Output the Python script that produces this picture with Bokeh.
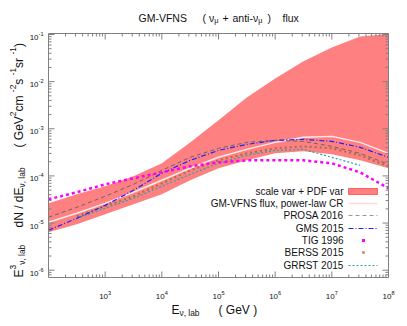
import math
from bokeh.plotting import figure
from bokeh.models import Label, Range1d
from bokeh.embed import file_html
from bokeh.resources import INLINE

# ---------------- data ----------------
E_GeV = [1e2, 3.16e2, 1e3, 3.16e3, 1e4, 3.16e4, 1e5, 3.16e5, 1e6, 3.16e6, 1e7, 3.16e7, 1e8]
band_lower = [6.4e-6, 9.4e-6, 1.53e-5, 2.5e-5, 4.07e-5, 8.1e-5, 1.45e-4, 2.14e-4, 3.01e-4, 3.32e-4, 2.87e-4, 2.14e-4, 1.45e-4]
band_upper = [2.63e-5, 4.07e-5, 6.03e-5, 9.8e-5, 1.86e-4, 5.1e-4, 1.51e-3, 4.6e-3, 1.17e-2, 2.7e-2, 5.3e-2, 9.1e-2, 1.03e-1]
gmvfns_central = [1.04e-5, 1.61e-5, 2.62e-5, 4.5e-5, 8.07e-5, 1.45e-4, 2.48e-4, 3.66e-4, 5.15e-4, 6.58e-4, 6.9e-4, 5.15e-4, 3.01e-4]
prosa_2016 = [1.33e-5, 2.16e-5, 3.70e-5, 6.64e-5, 1.31e-4, 2.48e-4, 3.85e-4, 5.15e-4, 5.68e-4, 5.41e-4, 4.24e-4, 3.01e-4, 1.76e-4]
gms_2015 = [7.03e-6, 1.26e-5, 2.38e-5, 4.95e-5, 1.14e-4, 2.14e-4, 3.48e-4, 4.67e-4, 5.68e-4, 5.96e-4, 5.41e-4, 4.04e-4, 2.48e-4]
tig_1996 = [3.19e-5, 4.5e-5, 6.64e-5, 8.9e-5, 1.19e-4, 1.60e-4, 1.94e-4, 2.14e-4, 2.14e-4, 2.14e-4, 1.85e-4, 1.19e-4, 5.46e-5]
E_berss = [3.16e2, 1e3, 3.16e3, 1e4, 3.16e4, 1e5, 3.16e5, 1e6, 3.16e6, 1e7, 3.16e7, 1e8]
berss_2015 = [1.39e-5, 2.27e-5, 3.70e-5, 6.97e-5, 1.31e-4, 2.14e-4, 3.01e-4, 3.85e-4, 4.24e-4, 3.85e-4, 2.73e-4, 1.60e-4]
E_grrst = [3.16e2, 1e3, 3.16e3, 1e4, 3.16e4, 1e5, 3.16e5, 1e6, 3.16e6, 1e7, 3.16e7]
grrst_2015 = [1.26e-5, 2.06e-5, 3.35e-5, 6.03e-5, 1.08e-4, 1.85e-4, 2.73e-4, 3.48e-4, 3.66e-4, 2.48e-4, 1.68e-4]

legend_labels = ["scale var + PDF var", "GM-VFNS flux, power-law CR", "PROSA 2016",
                 "GMS 2015", "TIG 1996", "BERSS 2015", "GRRST 2015"]
x_major_exp = [3, 4, 5, 6, 7, 8]
y_major_exp = [-6, -5, -4, -3, -2, -1]

# ---------------- geometry ----------------
CW, CH = 407, 326
XMIN, XMAX = 1e2, 1e8
YMIN, YMAX = 7e-7, 0.105
FX0, FX1, FY0, FY1 = 48, 388, 33, 277          # plot box in canvas pixels
FONT = "Liberation Sans"
INK = "#111111"
AXC = "#808080"

DX = (math.log10(XMAX) - math.log10(XMIN)) / (FX1 - FX0)   # decades per pixel
DY = (math.log10(YMAX) - math.log10(YMIN)) / (FY1 - FY0)


def X(px):
    return 10 ** (math.log10(XMIN) + (px - FX0) * DX)


def Y(py):
    return 10 ** (math.log10(YMAX) - (py - FY0) * DY)


p = figure(width=CW, height=CH, x_axis_type="log", y_axis_type="log",
           x_axis_location=None, y_axis_location=None,
           x_range=Range1d(X(0), X(CW)), y_range=Range1d(Y(CH), Y(0)),
           output_backend="svg", toolbar_location=None, min_border=0)
p.grid.visible = False
p.outline_line_color = None
p.background_fill_color = "white"
p.border_fill_color = "white"

# ---------------- glyphs ----------------
BAND = "#ff8080"
p.varea(x=E_GeV, y1=band_lower, y2=band_upper, fill_color=BAND, fill_alpha=1.0)
p.line(E_GeV, gmvfns_central, line_color="#ffeaea", line_width=1.5)
p.line(E_berss, berss_2015, line_color="#a0704a", line_width=2, line_dash="2 3")
p.line(E_grrst, grrst_2015, line_color="#2aa0a0", line_width=1.2, line_dash="2 2")
p.line(E_GeV, prosa_2016, line_color="#666666", line_width=1, line_dash="4 3")
p.line(E_GeV, gms_2015, line_color="#2020ff", line_width=1.2, line_dash="5 2 1 2")
p.line(E_GeV, tig_1996, line_color="#ff00ff", line_width=2.5, line_dash="3 3")

# ---------------- box and ticks ----------------
MAJ, MIN_ = 6, 3
xs_major = [10.0 ** e for e in x_major_exp]
xs_minor = [k * 10.0 ** e for e in range(2, 8) for k in range(2, 10)]
ys_major = [10.0 ** e for e in y_major_exp]
ys_minor = [k * 10.0 ** e for e in range(-7, -1) for k in range(2, 10) if YMIN < k * 10.0 ** e < YMAX]

x0s, y0s, x1s, y1s = [], [], [], []
for vals, ln in ((xs_major, MAJ), (xs_minor, MIN_)):
    for t in vals:
        x0s += [t, t]; x1s += [t, t]
        y0s += [YMIN, YMAX]; y1s += [Y(FY1 - ln), Y(FY0 + ln)]
for vals, ln in ((ys_major, MAJ), (ys_minor, MIN_)):
    for t in vals:
        y0s += [t, t]; y1s += [t, t]
        x0s += [XMIN, XMAX]; x1s += [X(FX0 + ln), X(FX1 - ln)]
p.segment(x0=x0s, y0=y0s, x1=x1s, y1=y1s, line_color=AXC, line_width=1)
p.line([XMIN, XMAX, XMAX, XMIN, XMIN], [YMIN, YMIN, YMAX, YMAX, YMIN], line_color=AXC, line_width=1)

# ---------------- rich text helper ----------------
W = {' ': 278, '(': 333, ')': 333, '+': 584, ',': 278, '-': 333, '/': 278, 'E': 667, 'F': 611,
     'G': 778, 'M': 833, 'N': 722, 'S': 667, 'V': 667, 'a': 556, 'b': 556, 'c': 500, 'd': 556,
     'e': 556, 'f': 278, 'i': 222, 'l': 222, 'm': 833, 'n': 556, 'r': 333, 's': 500, 't': 278,
     'u': 556, 'x': 500, 'ν': 500, 'μ': 576}


def tw(s, size):
    return sum(W.get(c, 556) for c in s) * size / 1000.0


def rich(pieces, x0, y0, size, vertical=False, color=INK):
    """pieces: (text, kind[, start]) ; kind n/sub/sup ; canvas pixel positions."""
    cur = x0 if not vertical else y0
    for pc in pieces:
        txt, kind = pc[0], pc[1]
        if len(pc) > 2:
            cur = pc[2]
        fs = size if kind == "n" else size * 0.7
        shift = 0.0 if kind == "n" else (size * 0.3 if kind == "sub" else -size * 0.45)
        if vertical:
            px, py = x0 + shift, cur
        else:
            px, py = cur, y0 + shift
        p.add_layout(Label(x=X(px), y=Y(py), text=txt, text_font=FONT,
                           text_font_size=f"{fs:.1f}px", text_color=color,
                           text_align="left", text_baseline="alphabetic",
                           angle=(math.pi / 2 if vertical else 0.0)))
        cur = cur - tw(txt, fs) if vertical else cur + tw(txt, fs)


# tick labels
TS = 8
for e in x_major_exp:
    sup = str(e)
    wtot = tw("10", TS) + tw(sup, TS * 0.7)
    cx = FX0 + (e - math.log10(XMIN)) / DX
    rich([("10", "n"), (sup, "sup")], cx - wtot / 2, 296, TS)
for e in y_major_exp:
    sup = str(e)
    wtot = tw("10", TS) + tw(sup, TS * 0.7)
    cy = FY0 + (math.log10(YMAX) - e) / DY
    rich([("10", "n"), (sup, "sup")], 43 - wtot, cy + 3, TS)

# title
rich([("GM-VFNS", "n", 138), ("( ν", "n", 202), ("μ", "sub"), ("+", "n", 222), ("anti-ν", "n", 232),
      ("μ", "sub"), (")", "n", 267), ("flux", "n", 282)], 138, 17, 10.5)
# x label
rich([("E", "n"), ("ν, lab", "sub"), ("( GeV )", "n", 218)], 171, 309, 12)
# y label (reads bottom to top)
rich([("E", "n", 277), ("3", "sup"), ("ν, lab", "sub"), ("dN / dE", "n", 227), ("ν, lab", "sub"),
      ("( GeV", "n", 147), ("2", "sup"), (" cm", "n"), ("-2", "sup"), (" s", "n"), ("-1", "sup"),
      (" sr", "n"), ("-1", "sup"), (" )", "n")], 18, 277, 12, vertical=True)

# ---------------- legend (label left, sample right) ----------------
rows = [191, 203, 215, 228, 240, 252, 265]
TX, S0, S1 = 343, 348, 377
for lab, ry in zip(legend_labels, rows):
    p.add_layout(Label(x=X(TX), y=Y(ry), text=lab, text_font=FONT, text_font_size="10px",
                       text_color=INK, text_align="right", text_baseline="middle"))
p.quad(left=[X(S0)], right=[X(S1)], top=[Y(rows[0] - 3)], bottom=[Y(rows[0] + 3)],
       fill_color=BAND, line_color="#ff6060", line_width=1)
p.line([X(S0), X(S1)], [Y(rows[1])] * 2, line_color="#ffdada", line_width=1.5)
p.line([X(S0), X(S1)], [Y(rows[2])] * 2, line_color="#999999", line_width=1, line_dash="4 3")
p.line([X(S0), X(S1)], [Y(rows[3])] * 2, line_color="#2020ff", line_width=1.2, line_dash="5 2 1 2")
p.scatter([X(363)], [Y(rows[4])], marker="square", size=3, fill_color="#ff00ff", line_color=None)
p.scatter([X(363)], [Y(rows[5])], marker="square", size=2.5, fill_color="#b08060", line_color=None)
p.line([X(S0), X(S1)], [Y(rows[6])] * 2, line_color="#2aa0a0", line_width=1.2, line_dash="2 2")

open("out.html", "w").write(file_html(p, INLINE))
